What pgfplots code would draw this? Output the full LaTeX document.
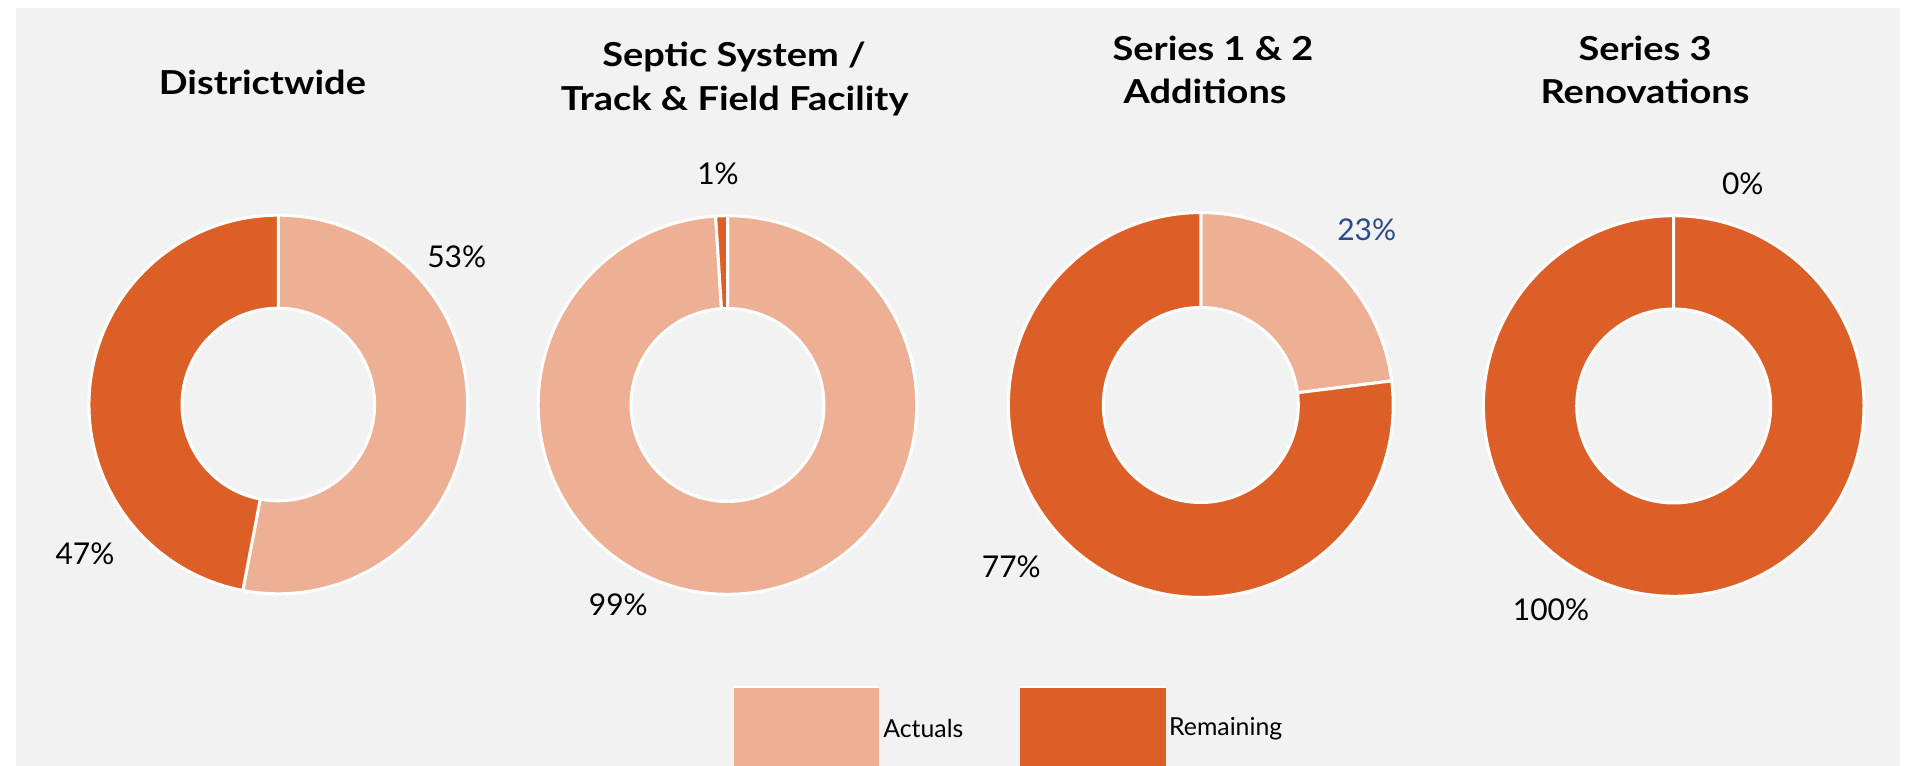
\documentclass[border=0pt]{standalone}
\usepackage{pgfplots}
\pgfplotsset{compat=1.18}
\usepackage{fontspec}
\setmainfont{Lato}
\newfontfamily\titlefont{Lato}[FakeStretch=1.15]
\definecolor{bgc}{HTML}{F2F2F2}
\definecolor{act}{HTML}{EEB095}
\definecolor{rem}{HTML}{DC5F27}
\definecolor{lblue}{HTML}{2C4A88}
% #1 cx, #2 cy, #3 outer r, #4 inner r, #5 actual %, #6 remaining %
\newcommand{\donut}[6]{%
  \begin{scope}[shift={(axis cs:#1,#2)}]
    \fill[fill=act, draw=white, line width=1.5pt, line join=round]
      (90:{#3*0.5pt}) arc[start angle=90, end angle={90-3.6*#5}, radius={#3*0.5pt}]
      -- ({90-3.6*#5}:{#4*0.5pt}) arc[start angle={90-3.6*#5}, end angle=90, radius={#4*0.5pt}] -- cycle;
    \fill[fill=rem, draw=white, line width=1.5pt, line join=round]
      ({90-3.6*#5}:{#3*0.5pt}) arc[start angle={90-3.6*#5}, end angle={90-3.6*#5-3.6*#6}, radius={#3*0.5pt}]
      -- ({90-3.6*#5-3.6*#6}:{#4*0.5pt}) arc[start angle={90-3.6*#5-3.6*#6}, end angle={90-3.6*#5}, radius={#4*0.5pt}] -- cycle;
  \end{scope}%
}
\begin{document}
\begin{tikzpicture}
\begin{axis}[x=0.5pt, y=0.5pt, xmin=0, xmax=1907, ymin=0, ymax=766,
  hide axis, clip=false, scale only axis]
  % background
  \fill[white] (axis cs:0,0) rectangle (axis cs:1907,766);
  \fill[bgc] (axis cs:16,0) rectangle (axis cs:1900,758);
  % donuts: cx, cy, Ro, Ri, Actuals, Remaining
  \donut{278.3}{361.5}{189.3}{96.3}{53}{47}
  \donut{727.5}{361}{189.3}{96.5}{99}{1}
  \donut{1200.8}{361}{192.4}{97.5}{23}{77}
  \donut{1673.7}{360}{190.3}{97}{0}{100}
  % titles
  \begin{scope}[every node/.style={font=\titlefont\fontsize{16.5}{20}\selectfont\bfseries, anchor=base, inner sep=0pt}]
    \node at (axis cs:262.4,671) {Districtwide};
    \node at (axis cs:734,699.3) {Septic System /};
    \node at (axis cs:734.7,655) {Track \& Field Facility};
    \node at (axis cs:1213,705) {Series 1 \& 2};
    \node at (axis cs:1205,662) {Additions};
    \node at (axis cs:1645,705) {Series 3};
    \node at (axis cs:1645,662) {Renovations};
  \end{scope}
  % data labels
  \begin{scope}[every node/.style={font=\fontsize{15}{18}\selectfont, anchor=center, inner sep=0pt}]
    \node at (axis cs:456.7,509.3) {53\%};
    \node at (axis cs:85,212) {47\%};
    \node at (axis cs:718,592) {1\%};
    \node at (axis cs:618.3,161.5) {99\%};
    \node[text=lblue] at (axis cs:1366.7,536) {23\%};
    \node at (axis cs:1011.3,199.3) {77\%};
    \node at (axis cs:1742.8,582) {0\%};
    \node at (axis cs:1551,156) {100\%};
  \end{scope}
  % legend
  \fill[act] (axis cs:734.4,0) rectangle (axis cs:879,78.5);
  \draw[white, line width=1pt] (axis cs:734.4,78.5) -- (axis cs:879,78.5);
  \node[anchor=west, inner sep=0pt, font=\fontsize{12.4}{15}\selectfont] at (axis cs:883,37.7) {Actuals};
  \fill[rem] (axis cs:1019.6,0) rectangle (axis cs:1166,78.5);
  \draw[white, line width=1pt] (axis cs:1019.6,78.5) -- (axis cs:1166,78.5);
  \node[anchor=west, inner sep=0pt, font=\fontsize{12.4}{15}\selectfont] at (axis cs:1168.8,37.7) {Remaining};
\end{axis}
\end{tikzpicture}
\end{document}
